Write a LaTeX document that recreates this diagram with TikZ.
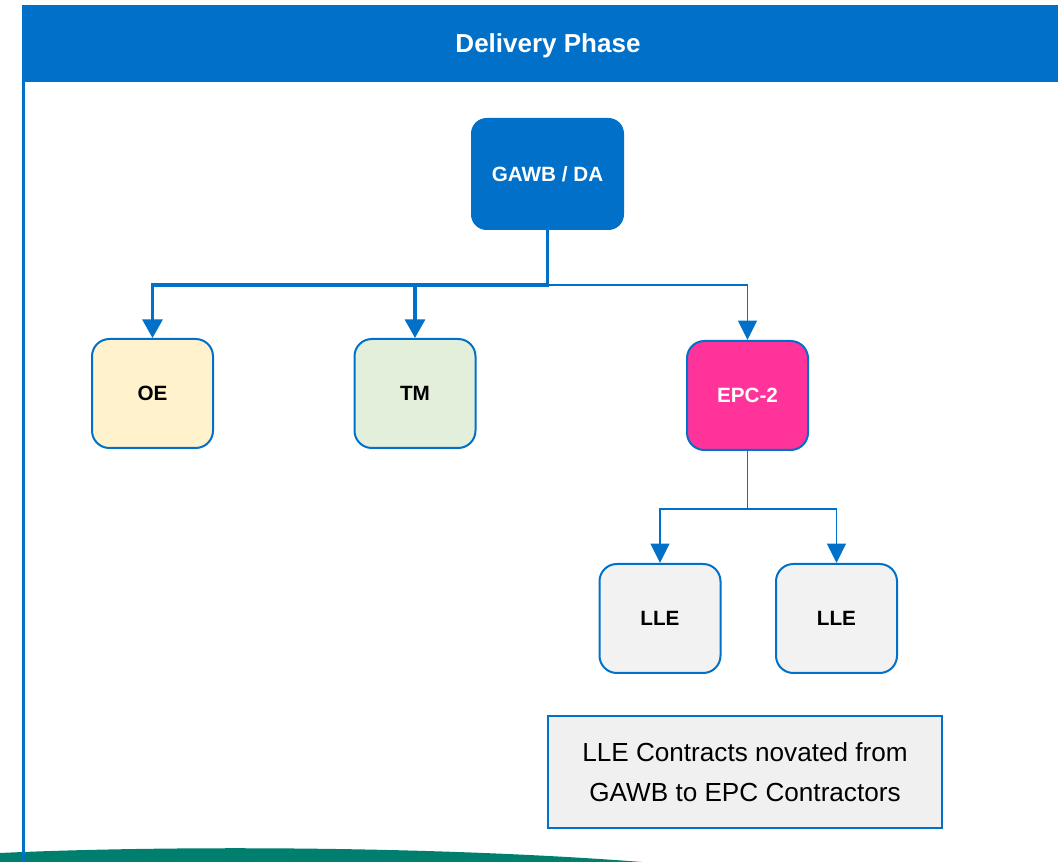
\documentclass[tikz,border=0pt]{standalone}
\usepackage{fontspec}
\setmainfont{Liberation Sans}
\usetikzlibrary{arrows.meta}

\definecolor{phaseblue}{RGB}{0,112,201}
\definecolor{oeyellow}{RGB}{255,242,204}
\definecolor{tmgreen}{RGB}{226,239,218}
\definecolor{epcpink}{RGB}{255,51,153}
\definecolor{llegrey}{RGB}{242,242,242}
\definecolor{notegrey}{RGB}{240,240,240}
\definecolor{bandteal}{RGB}{0,126,110}

\begin{document}
\begin{tikzpicture}[
		x=0.75pt, y=-0.75pt,
		every node/.style={font=\fontsize{15.5}{18}\selectfont\bfseries},
		unit/.style={draw=phaseblue, line width=1.5pt, rounded corners=13pt, minimum width=90.75pt, minimum height=81.75pt},
		heavy/.style={draw=phaseblue, line width=2.5pt, -{Triangle[width=15pt,length=14pt]}},
		light/.style={draw=phaseblue, line width=1.4pt, -{Triangle[width=14pt,length=14.5pt]}}
		]
		\useasboundingbox (0,0) rectangle (1058,862);
		\fill[bandteal] (0,853) .. controls (150,846) and (420,845) .. (642,862) -- (0,862) -- cycle;
		\fill[phaseblue] (22,5) rectangle (1058,82);
		\draw[phaseblue, line width=1.9pt] (23.5,5) -- (23.5,862);
		\node[text=white, font=\fontsize{19.5}{22}\selectfont\bfseries] (title) at (548,46) {Delivery Phase};
		
		\node[unit, fill=phaseblue, text=white, rounded corners=11pt, minimum width=113.25pt, minimum height=82.5pt] (gawb) at (547.5,174) {GAWB / DA};
		\node[unit, fill=oeyellow] (oe) at (152.5,393.5) {OE};
		\node[unit, fill=tmgreen] (tm) at (415,393.5) {TM};
		\node[unit, fill=epcpink, text=white] (epc) at (747.5,395.5) {EPC-2};
		\node[unit, fill=llegrey] (lleone) at (660,618.5) {LLE};
		\node[unit, fill=llegrey] (lletwo) at (836.5,618.5) {LLE};
		\node[draw=phaseblue, line width=1.5pt, fill=notegrey, minimum width=295.5pt, minimum height=84pt, align=center, font=\fontsize{19.6}{30}\selectfont] (note) at (745,772) {LLE Contracts novated from\\GAWB to EPC Contractors};
		
		\draw[light] (gawb.south) -- ++(0,55) -| (epc.north);
		\draw[heavy] (gawb.south) -- ++(0,55) -| (oe.north);
		\draw[heavy] (gawb.south) -- ++(0,55) -| (tm.north);
		\draw[light] (epc.south) -- ++(0,58) -| (lleone.north);
		\draw[light] (epc.south) -- ++(0,58) -| (lletwo.north);
\end{tikzpicture}
\end{document}
